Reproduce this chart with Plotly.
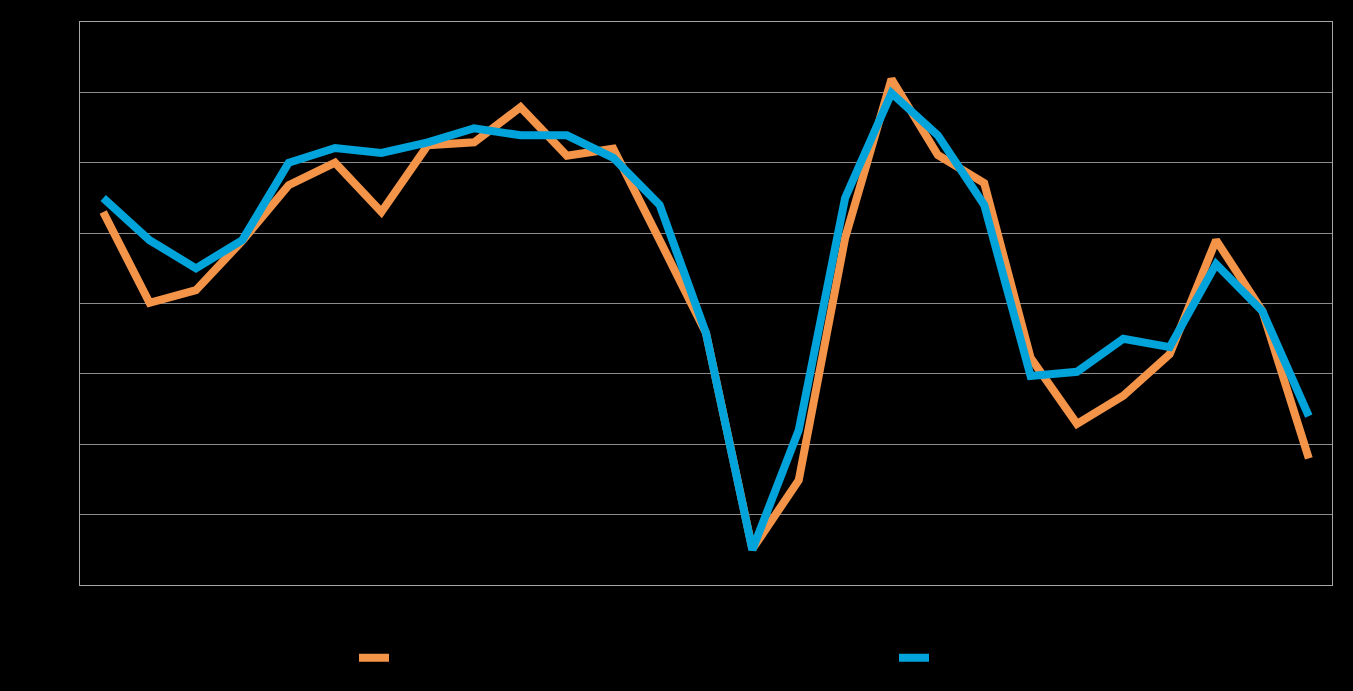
import plotly.graph_objects as go

categories = [str(i) for i in range(1, 28)]
series_a = [5.30, 4.01, 4.19, 4.89, 5.68, 6.00, 5.30, 6.25, 6.29, 6.79, 6.10, 6.20, 4.90, 3.58,
            0.51, 1.49, 4.93, 7.19, 6.11, 5.71, 3.23, 2.29, 2.69, 3.28, 4.90, 3.89, 1.80]
series_b = [5.50, 4.90, 4.50, 4.90, 6.00, 6.21, 6.14, 6.29, 6.49, 6.39, 6.39, 6.07, 5.40, 3.58,
            0.50, 2.20, 5.50, 6.99, 6.39, 5.40, 2.97, 3.03, 3.50, 3.38, 4.56, 3.89, 2.40]
name_a = "Serie 1"
name_b = "Serie 2"

fig = go.Figure()
fig.add_trace(go.Scatter(x=categories, y=series_a, mode="lines", name=name_a,
                         line=dict(color="#F39449", width=8), legend="legend"))
fig.add_trace(go.Scatter(x=categories, y=series_b, mode="lines", name=name_b,
                         line=dict(color="#00A3DA", width=8), legend="legend2"))

leg_common = dict(orientation="h", xanchor="left", yanchor="middle", y=-0.13,
                  font=dict(color="#000000", size=14, family="Liberation Sans"),
                  bgcolor="rgba(0,0,0,0)")

fig.update_layout(
    width=1353, height=691,
    paper_bgcolor="#000000", plot_bgcolor="#000000",
    margin=dict(l=80, r=21, t=22, b=106),
    showlegend=True,
    legend=dict(x=(354 - 80) / 1252, **leg_common),
    legend2=dict(x=(894 - 80) / 1252, **leg_common),
    font=dict(family="Liberation Sans", color="#000000"),
)
fig.update_xaxes(range=[-0.5, 26.5], showgrid=False, showticklabels=False, ticks="",
                 showline=True, mirror=True, linecolor="#A6A6A6", linewidth=1, zeroline=False)
fig.update_yaxes(range=[0, 8], dtick=1, showgrid=True, gridcolor="#8C8C8C", gridwidth=1,
                 showticklabels=False, ticks="", showline=True, mirror=True,
                 linecolor="#A6A6A6", linewidth=1, zeroline=False)

fig.write_html("out.html", config={"displayModeBar": False},
               post_script="document.body.style.margin='0';document.body.style.background='#000';")
